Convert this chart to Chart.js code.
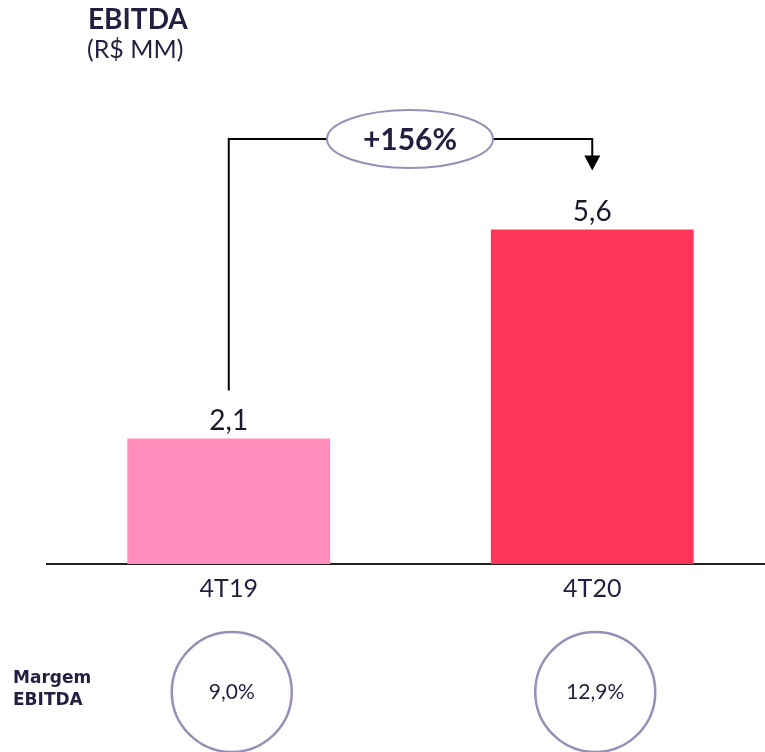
<!DOCTYPE html>
<html>
<head>
<meta charset="utf-8">
<script src="https://cdn.jsdelivr.net/npm/chart.js@4"></script>
<style>
  html, body { margin: 0; padding: 0; background: #fff; overflow: hidden; }
  #wrap { position: relative; width: 775px; height: 752px; }
</style>
</head>
<body>
<div id="wrap"><canvas id="chart"></canvas></div>
<script>
const categories = ['4T19', '4T20'];
const ebitda = [2.1, 5.6];
const valueLabels = ['2,1', '5,6'];
const margins = ['9,0%', '12,9%'];
const growthLabel = '+156%';
const barColors = ['#FF8DBB', '#FF3659'];

const NAVY = '#241f40';
const LAVENDER = '#9b8eb6';

const annotations = {
  id: 'annotations',
  afterDatasetsDraw(chart) {
    const ctx = chart.ctx;
    const meta = chart.getDatasetMeta(0);
    ctx.save();

    // value labels above bars
    ctx.fillStyle = '#1c1a2a';
    ctx.font = '400 28px Lato';
    ctx.textAlign = 'center';
    ctx.textBaseline = 'alphabetic';
    meta.data.forEach((bar, i) => {
      ctx.fillText(valueLabels[i], bar.x, bar.y - 9);
    });

    // bracket with arrow
    const x1 = meta.data[0].x;
    const x2 = meta.data[1].x;
    const yTop = 139;
    const yStart = meta.data[0].y - 48;
    const tipY = meta.data[1].y - 59;
    ctx.strokeStyle = '#000';
    ctx.lineWidth = 2;
    ctx.beginPath();
    ctx.moveTo(x1, yStart);
    ctx.lineTo(x1, yTop);
    ctx.lineTo(x2, yTop);
    ctx.lineTo(x2, tipY - 14);
    ctx.stroke();
    ctx.fillStyle = '#000';
    ctx.beginPath();
    ctx.moveTo(x2 - 8, tipY - 15);
    ctx.lineTo(x2 + 8, tipY - 15);
    ctx.lineTo(x2, tipY);
    ctx.closePath();
    ctx.fill();

    // growth ellipse
    ctx.fillStyle = '#fff';
    ctx.strokeStyle = LAVENDER;
    ctx.lineWidth = 2;
    ctx.beginPath();
    ctx.ellipse(410, yTop, 83, 29, 0, 0, Math.PI * 2);
    ctx.fill();
    ctx.stroke();
    ctx.fillStyle = NAVY;
    ctx.font = 'bold 30px Lato';
    ctx.textBaseline = 'middle';
    ctx.fillText(growthLabel, 410, yTop + 1);

    // margin circles
    ctx.font = '400 21px Lato';
    meta.data.forEach((bar, i) => {
      ctx.strokeStyle = LAVENDER;
      ctx.lineWidth = 2.5;
      ctx.beginPath();
      ctx.arc(bar.x + 3, 692, 60, 0, Math.PI * 2);
      ctx.stroke();
      ctx.fillStyle = NAVY;
      ctx.fillText(margins[i], bar.x + 3, 692);
    });

    // titles
    ctx.textAlign = 'left';
    ctx.textBaseline = 'alphabetic';
    ctx.fillStyle = NAVY;
    ctx.font = 'bold 28px Lato';
    ctx.fillText('EBITDA', 88, 29);
    ctx.font = '400 25px Lato';
    ctx.fillText('(R$ MM)', 87, 58);
    ctx.font = 'bold 17px "DejaVu Sans"';
    ctx.fillText('Margem', 13, 683);
    ctx.fillText('EBITDA', 13, 705);

    ctx.restore();
  }
};

new Chart(document.getElementById('chart'), {
  type: 'bar',
  data: {
    labels: categories,
    datasets: [{
      data: ebitda,
      backgroundColor: barColors,
      barPercentage: 0.558,
      categoryPercentage: 1,
    }]
  },
  options: {
    responsive: true,
    maintainAspectRatio: false,
    animation: false,
    layout: { padding: { left: 47, right: 1, top: 146, bottom: 138 } },
    plugins: { legend: { display: false }, tooltip: { enabled: false } },
    scales: {
      x: {
        grid: { display: false, drawTicks: false },
        border: { display: true, color: '#222', width: 2 },
        ticks: { color: NAVY, font: { family: 'Lato', size: 25, weight: '400' }, padding: 10 },
      },
      y: { display: false, min: 0, max: 7 },
    },
  },
  plugins: [annotations],
});
</script>
</body>
</html>
